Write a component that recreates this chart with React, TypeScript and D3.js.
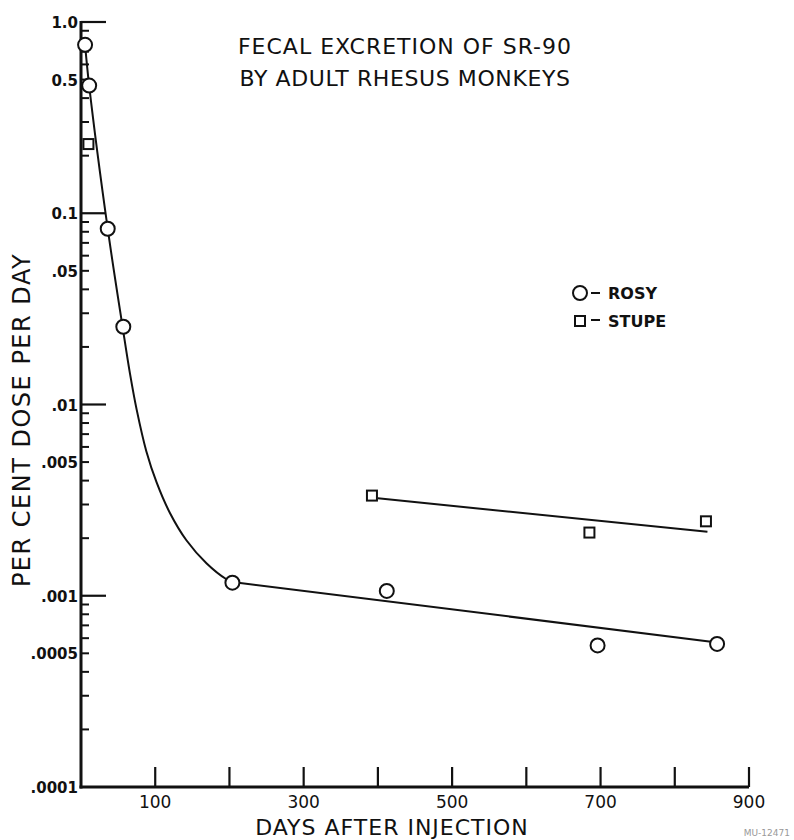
import { useEffect, useRef } from 'react'
import * as d3 from 'd3'

// Rosy (circles): days after injection, per cent dose per day
const rosyDays = [5.5, 11, 36, 57, 204, 412, 696, 857]
const rosyValues = [0.76, 0.465, 0.083, 0.0255, 0.00117, 0.00106, 0.00055, 0.00056]

// Stupe (squares)
const stupeDays = [10, 392, 685, 842]
const stupeValues = [0.23, 0.00334, 0.00214, 0.00245]

// fitted curve through Rosy
const rosyFitDays = [5.5, 11, 36, 56, 66, 75, 88, 102, 120, 142, 169, 196, 204]
const rosyFitValues = [0.76, 0.465, 0.083, 0.0255, 0.0145, 0.0094, 0.0057, 0.0039, 0.0027, 0.00195, 0.00148, 0.00122, 0.00118]
const rosyTailDays = [204, 857]
const rosyTailValues = [0.00118, 0.00057]

// fitted line through Stupe
const stupeFitDays = [400, 844]
const stupeFitValues = [0.00323, 0.00216]

const xTicks = [100, 200, 300, 400, 500, 600, 700, 800, 900]
const xTickLabels = ['100', '300', '500', '700', '900']
const yMajor = [1, 0.1, 0.01, 0.001]
const yLabelValues = [1, 0.5, 0.1, 0.05, 0.01, 0.005, 0.001, 0.0005, 0.0001]
const yLabelText = ['1.0', '0.5', '0.1', '.05', '.01', '.005', '.001', '.0005', '.0001']

const W = 794
const H = 840
const FONT = 'DejaVu Sans, Liberation Sans, sans-serif'

export default function App() {
  const svgRef = useRef<SVGSVGElement | null>(null)

  useEffect(() => {
    if (!svgRef.current) return
    const svg = d3.select(svgRef.current)
    svg.selectAll('*').remove()

    const x = d3.scaleLinear().domain([0, 900]).range([81, 749])
    const y = d3.scaleLog().domain([0.0001, 1]).range([787, 22])

    const g = svg.append('g')

    // minor log ticks
    const minor: number[] = []
    for (let e = -4; e < 0; e++) {
      for (let k = 2; k <= 9; k++) minor.push(k * Math.pow(10, e))
    }
    g.selectAll('.minor')
      .data(minor)
      .enter().append('line')
      .attr('x1', x(0)).attr('x2', x(0) + 8)
      .attr('y1', d => y(d)).attr('y2', d => y(d))
      .attr('stroke', '#111').attr('stroke-width', 2)

    g.selectAll('.major')
      .data(yMajor)
      .enter().append('line')
      .attr('x1', x(0)).attr('x2', x(0) + 25)
      .attr('y1', d => y(d)).attr('y2', d => y(d))
      .attr('stroke', '#111').attr('stroke-width', 2.2)

    // x ticks
    g.selectAll('.xt')
      .data(xTicks)
      .enter().append('line')
      .attr('x1', d => x(d)).attr('x2', d => x(d))
      .attr('y1', y(0.0001)).attr('y2', y(0.0001) - 20)
      .attr('stroke', '#111').attr('stroke-width', 2.2)

    // axes
    g.append('line')
      .attr('x1', x(0)).attr('x2', x(0))
      .attr('y1', y(1) - 1).attr('y2', y(0.0001) + 1.5)
      .attr('stroke', '#111').attr('stroke-width', 3)
    g.append('line')
      .attr('x1', x(0) - 1.5).attr('x2', x(900))
      .attr('y1', y(0.0001)).attr('y2', y(0.0001))
      .attr('stroke', '#111').attr('stroke-width', 3)

    // y labels
    g.selectAll('.yl')
      .data(yLabelValues)
      .enter().append('text')
      .attr('x', x(0) - 3)
      .attr('y', d => y(d) + 6)
      .attr('text-anchor', 'end')
      .attr('font-family', FONT)
      .attr('font-size', 15)
      .attr('font-weight', 'bold')
      .attr('fill', '#111')
      .text((d, i) => yLabelText[i])

    // x labels
    g.selectAll('.xl')
      .data(xTickLabels)
      .enter().append('text')
      .attr('x', d => x(+d))
      .attr('y', y(0.0001) + 21)
      .attr('text-anchor', 'middle')
      .attr('font-family', FONT)
      .attr('font-size', 17)
      .attr('fill', '#111')
      .text(d => d)

    // fitted curves
    const fitPts = rosyFitDays.map((d, i) => [x(d), y(rosyFitValues[i])] as [number, number])
    g.append('path')
      .attr('d', d3.line().curve(d3.curveCatmullRom.alpha(0.5))(fitPts))
      .attr('fill', 'none').attr('stroke', '#111').attr('stroke-width', 2)
    const tailPts = rosyTailDays.map((d, i) => [x(d), y(rosyTailValues[i])] as [number, number])
    g.append('path')
      .attr('d', d3.line()(tailPts))
      .attr('fill', 'none').attr('stroke', '#111').attr('stroke-width', 2)
    const stupePts = stupeFitDays.map((d, i) => [x(d), y(stupeFitValues[i])] as [number, number])
    g.append('path')
      .attr('d', d3.line()(stupePts))
      .attr('fill', 'none').attr('stroke', '#111').attr('stroke-width', 2)

    // points
    g.selectAll('.rosy')
      .data(rosyDays)
      .enter().append('circle')
      .attr('cx', d => x(d))
      .attr('cy', (d, i) => y(rosyValues[i]))
      .attr('r', 7)
      .attr('fill', '#fff').attr('stroke', '#111').attr('stroke-width', 2)

    g.selectAll('.stupe')
      .data(stupeDays)
      .enter().append('rect')
      .attr('x', d => x(d) - 5)
      .attr('y', (d, i) => y(stupeValues[i]) - 5)
      .attr('width', 10).attr('height', 10)
      .attr('fill', '#fff').attr('stroke', '#111').attr('stroke-width', 2)

    // legend
    const lg = g.append('g').attr('transform', 'translate(580,293)')
    lg.append('circle').attr('r', 7).attr('fill', '#fff').attr('stroke', '#111').attr('stroke-width', 2)
    lg.append('line').attr('x1', 11).attr('x2', 20).attr('y1', 0).attr('y2', 0).attr('stroke', '#111').attr('stroke-width', 2)
    lg.append('text').attr('x', 28).attr('y', 6).attr('font-family', FONT).attr('font-size', 16)
      .attr('font-weight', 'bold').attr('fill', '#111').text('ROSY')
    lg.append('rect').attr('x', -5).attr('y', 23).attr('width', 10).attr('height', 10)
      .attr('fill', '#fff').attr('stroke', '#111').attr('stroke-width', 2)
    lg.append('line').attr('x1', 11).attr('x2', 20).attr('y1', 27).attr('y2', 27).attr('stroke', '#111').attr('stroke-width', 2)
    lg.append('text').attr('x', 28).attr('y', 34).attr('font-family', FONT).attr('font-size', 16)
      .attr('font-weight', 'bold').attr('fill', '#111').text('STUPE')

    // titles
    g.append('text').attr('x', 405).attr('y', 54).attr('text-anchor', 'middle')
      .attr('font-family', FONT).attr('font-size', 22).attr('letter-spacing', 1)
      .attr('fill', '#111')
      .text('FECAL EXCRETION OF SR-90')
    g.append('text').attr('x', 405).attr('y', 86).attr('text-anchor', 'middle')
      .attr('font-family', FONT).attr('font-size', 22).attr('letter-spacing', 0.6)
      .attr('fill', '#111')
      .text('BY ADULT RHESUS MONKEYS')

    g.append('text')
      .attr('transform', 'translate(30,420) rotate(-90)')
      .attr('text-anchor', 'middle')
      .attr('font-family', FONT).attr('font-size', 24).attr('letter-spacing', 1.5)
      .attr('fill', '#111')
      .text('PER CENT DOSE PER DAY')

    g.append('text').attr('x', 392).attr('y', 835).attr('text-anchor', 'middle')
      .attr('font-family', FONT).attr('font-size', 22).attr('letter-spacing', 1)
      .attr('fill', '#111')
      .text('DAYS AFTER INJECTION')

    g.append('text').attr('x', 790).attr('y', 836).attr('text-anchor', 'end')
      .attr('font-family', FONT).attr('font-size', 9).attr('fill', '#999')
      .text('MU-12471')
  }, [])

  return (
    <svg
      ref={svgRef}
      width={W}
      height={H}
      style={{ position: 'absolute', left: 0, top: 0, background: '#fff' }}
    />
  )
}
